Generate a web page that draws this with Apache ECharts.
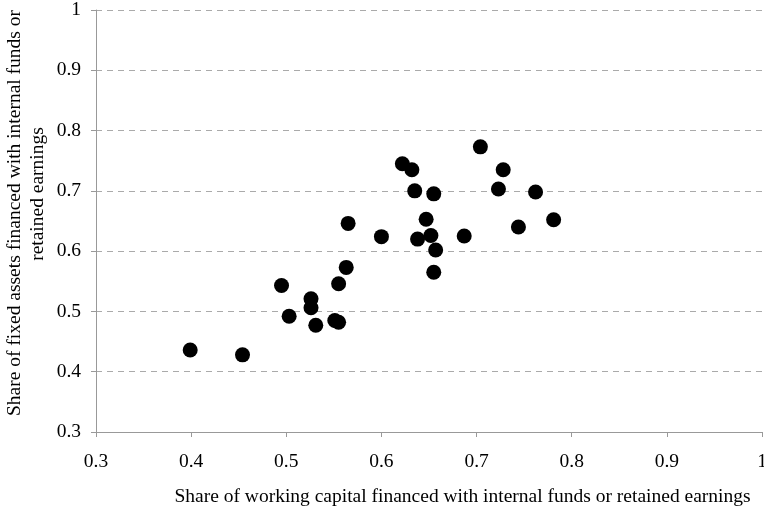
<!DOCTYPE html>
<html>
<head>
<meta charset="utf-8">
<script src="https://cdn.jsdelivr.net/npm/echarts@6/dist/echarts.min.js"></script>
<style>
  html, body { margin: 0; padding: 0; background: #fff; }
  #chart { width: 764px; height: 508px; }
</style>
</head>
<body>
<div id="chart"></div>
<script>
var myChart = echarts.init(document.getElementById('chart'));

// working capital share (x) and fixed assets share (y), one entry per point
var workingCapital = [0.399, 0.454, 0.495, 0.503, 0.526, 0.526, 0.531, 0.551, 0.555, 0.555,
    0.563, 0.565, 0.600, 0.622, 0.632, 0.635, 0.638, 0.647, 0.652, 0.655,
    0.657, 0.655, 0.687, 0.704, 0.723, 0.728, 0.744, 0.762, 0.781];
var fixedAssets = [0.436, 0.428, 0.543, 0.492, 0.521, 0.506, 0.477, 0.485, 0.482, 0.546,
    0.573, 0.646, 0.624, 0.745, 0.735, 0.700, 0.620, 0.653, 0.626, 0.695,
    0.602, 0.565, 0.625, 0.773, 0.703, 0.735, 0.640, 0.698, 0.652];

var points = [];
for (var i = 0; i < workingCapital.length; i++) {
    points.push([workingCapital[i], fixedAssets[i]]);
}

var fontFam = '"Liberation Serif", "Times New Roman", serif';
var fs = 19.5;

option = {
    animation: false,
    textStyle: { fontFamily: fontFam },
    grid: { left: 96, right: 2, top: 10, bottom: 76, outerBoundsMode: 'none' },
    xAxis: {
        type: 'value',
        min: 0.3,
        max: 1,
        interval: 0.1,
        name: 'Share of working capital financed with internal funds or retained earnings',
        nameLocation: 'middle',
        nameGap: 55,
        nameTextStyle: { fontFamily: fontFam, fontSize: fs, color: '#000', padding: [0, 0, 0, 67] },
        axisLine: { lineStyle: { color: '#999' } },
        axisTick: { show: true, length: 5, lineStyle: { color: '#999' } },
        axisLabel: { fontFamily: fontFam, fontSize: fs, color: '#000', margin: 20 },
        splitLine: { show: false }
    },
    yAxis: {
        type: 'value',
        min: 0.3,
        max: 1,
        interval: 0.1,
        axisLine: { show: true, lineStyle: { color: '#999' } },
        axisTick: { show: true, length: 5, lineStyle: { color: '#999' } },
        axisLabel: { fontFamily: fontFam, fontSize: fs, color: '#000', margin: 15 },
        splitLine: { show: true, lineStyle: { color: '#aaa', type: [6, 5] } }
    },
    graphic: [
        {
            type: 'text',
            x: 15, y: 213,
            rotation: Math.PI / 2,
            style: {
                text: 'Share of fixed assets financed with internal funds or',
                font: fs + 'px ' + fontFam,
                fill: '#000',
                align: 'center',
                verticalAlign: 'middle'
            }
        },
        {
            type: 'text',
            x: 38, y: 194,
            rotation: Math.PI / 2,
            style: {
                text: 'retained earnings',
                font: fs + 'px ' + fontFam,
                fill: '#000',
                align: 'center',
                verticalAlign: 'middle'
            }
        }
    ],
    series: [
        {
            type: 'scatter',
            symbol: 'circle',
            symbolSize: 15,
            itemStyle: { color: '#000', opacity: 1 },
            data: points
        }
    ]
};

myChart.setOption(option);
</script>
</body>
</html>
